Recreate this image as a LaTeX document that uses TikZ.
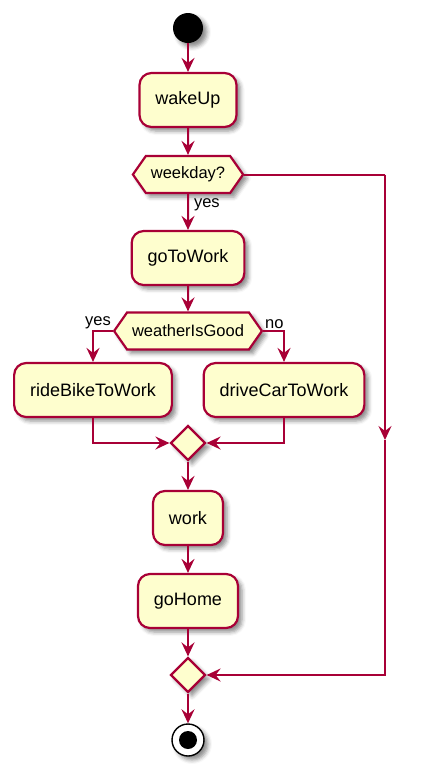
\documentclass[tikz,border=0pt]{standalone}
\usepackage{fontspec}
\setmainfont{Liberation Sans}
\usetikzlibrary{arrows.meta,shapes.geometric,shapes.symbols,shadows.blur}
\definecolor{umlred}{RGB}{168,0,54}
\definecolor{umlfill}{RGB}{254,254,206}

\begin{document}
\begin{tikzpicture}[x=1pt, y=-1pt,
  umlshadow/.style={blur shadow={shadow xshift=4pt, shadow yshift=-4pt, shadow blur radius=4pt, shadow opacity=45}},
  act/.style={rectangle, rounded corners=12pt, draw=umlred, fill=umlfill, line width=2.2pt, minimum height=54pt, inner xsep=16pt, font=\fontsize{18}{20}\selectfont, umlshadow},
  cond/.style={signal, signal to=west and east, signal pointer angle=110, draw=umlred, fill=umlfill, line width=2.2pt, minimum height=37pt, inner xsep=5pt, font=\fontsize{16.5}{18}\selectfont, umlshadow},
  merge/.style={diamond, draw=umlred, fill=umlfill, line width=2.2pt, minimum width=35pt, minimum height=35pt, inner sep=0pt, umlshadow},
  wire/.style={draw=umlred, line width=2pt},
  flow/.style={wire, -{Stealth[length=14pt, width=13pt, inset=5pt]}},
  lbl/.style={font=\fontsize{16.5}{18}\selectfont, inner sep=1pt}]
  \useasboundingbox (0,0) rectangle (423,772);

  \node[circle, fill=black, minimum size=30pt, inner sep=0pt, umlshadow] (start) at (188,28) {};
  \node[act] (wakeUp) at (188,100) {wakeUp};
  \node[cond] (weekday) at (188,174.5) {weekday?};
  \node[act] (goToWork) at (188,258) {goToWork};
  \node[cond] (weather) at (188,331) {weatherIsGood};
  \node[act] (rideBike) at (93,390) {rideBikeToWork};
  \node[act] (driveCar) at (284,390) {driveCarToWork};
  \node[merge] (mergeA) at (188,443) {};
  \node[act] (work) at (188,518) {work};
  \node[act] (goHome) at (188,601) {goHome};
  \node[merge] (mergeB) at (188,675) {};
  \node[circle, draw=black, line width=1.4pt, fill=white, minimum size=32pt, inner sep=0pt, umlshadow,
        path picture={\fill[black] (path picture bounding box.center) circle (9pt);}] (stop) at (188,740) {};
  \coordinate (skipTop) at (385,174.5);
  \coordinate (skipMid) at (385,440);

  \draw[flow] (start) -- (wakeUp);
  \draw[flow] (wakeUp) -- (weekday);
  \draw[flow] (weekday) -- node[lbl, pos=0, anchor=north west, xshift=4pt, yshift=-3pt] {yes} (goToWork);
  \draw[flow] (goToWork) -- (weather);
  \draw[flow] (weather.west) -| node[lbl, pos=0, anchor=south east] {yes} (rideBike);
  \draw[flow] (weather.east) -| node[lbl, pos=0, anchor=south west] {no} (driveCar);
  \draw[flow] (rideBike) |- (mergeA);
  \draw[flow] (driveCar) |- (mergeA);
  \draw[flow] (mergeA) -- (work);
  \draw[flow] (work) -- (goHome);
  \draw[flow] (goHome) -- (mergeB);
  \draw[flow] (mergeB) -- (stop);
  \draw[wire] (weekday.east) -- (skipTop);
  \draw[flow] (skipTop) -- (skipMid);
  \draw[flow] (skipMid) |- (mergeB);
\end{tikzpicture}
\end{document}
